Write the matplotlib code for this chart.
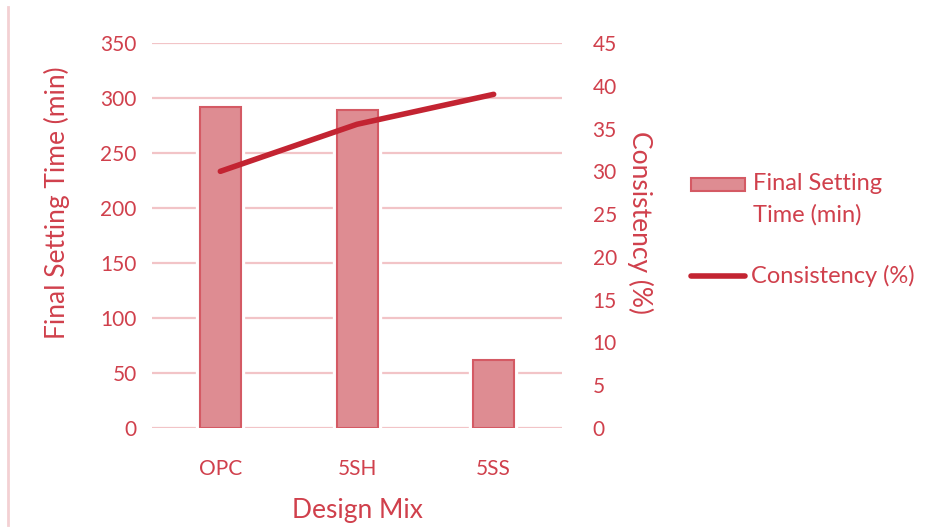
import matplotlib.pyplot as plt
from matplotlib.lines import Line2D
from matplotlib.patches import Rectangle

# data
mixes = ["OPC", "5SH", "5SS"]
setting_time = [292, 289, 62]       # Final Setting Time (min)
consistency = [30, 35.5, 39]        # Consistency (%)

left_ticks = [0, 50, 100, 150, 200, 250, 300, 350]
right_ticks = [0, 5, 10, 15, 20, 25, 30, 35, 40, 45]

txt_col = "#D0404C"
bar_col = "#DE8C92"
bar_edge = "#D45A64"
line_col = "#C32432"
grid_col = "#F2C4C7"

plt.rcParams['font.family'] = ['Lato', 'DejaVu Sans']
plt.rcParams['font.size'] = 15

fig = plt.figure(figsize=(9.37, 5.32), dpi=100)
ax = fig.add_axes([152/937, 1-428/532, 410/937, 385/532])
ax2 = ax.twinx()

x = range(len(mixes))
# white halo so grid lines stop short of the bars
ax.bar(x, setting_time, width=0.3, color="white", edgecolor="white", linewidth=6, zorder=2)
ax.bar(x, setting_time, width=0.3, color=bar_col, edgecolor=bar_edge, linewidth=1.5, zorder=3)
ax.set_xlim(-0.5, 2.5)
ax.set_ylim(0, 350)
ax.set_yticks(left_ticks)
ax.yaxis.grid(True, color=grid_col, linewidth=1.6, zorder=0)
ax.set_axisbelow(True)

ax2.plot(list(x), consistency, color=line_col, linewidth=4, solid_capstyle="round", zorder=5)
ax2.set_ylim(0, 45)
ax2.set_yticks(right_ticks)

ax.set_xticks(list(x))
ax.set_xticklabels(mixes)
for a in (ax, ax2):
    for s in a.spines.values():
        s.set_visible(False)
    a.tick_params(length=0, colors=txt_col)
ax.tick_params(axis="y", pad=11)
ax.tick_params(axis="x", pad=22)
ax2.tick_params(axis="y", pad=22)

ax.set_xlabel("Design Mix", color=txt_col, fontsize=19, labelpad=14)
ax.set_ylabel("Final Setting Time (min)", color=txt_col, fontsize=19)
ax2.set_ylabel("Consistency (%)", color=txt_col, fontsize=19, rotation=270, labelpad=26)
# axis titles sit a bit above the middle in the original
ax.yaxis.set_label_coords(-0.2, 0.584)
ax2.yaxis.label.set_y(0.535)

# legend drawn by hand (Excel style: key lines up with first text line)
fig.add_artist(Rectangle((691/937, 1-191/532), 54/937, 13/532, transform=fig.transFigure,
                         facecolor=bar_col, edgecolor=bar_edge, linewidth=1.5))
fig.text(753/937, 1-184/532, "Final Setting", color=txt_col, fontsize=17, va="center")
fig.text(753/937, 1-215/532, "Time (min)", color=txt_col, fontsize=17, va="center")
fig.add_artist(Line2D([691/937, 745/937], [1-276/532, 1-276/532], color=line_col,
                      linewidth=4, solid_capstyle="round"))
fig.text(751/937, 1-276/532, "Consistency (%)", color=txt_col, fontsize=17, va="center")

# faint border line on the left edge
fig.add_artist(Line2D([8/937, 8/937], [1-525/532, 1-7/532], color="#F3D0D3", linewidth=2))

fig.savefig("out.png", dpi=100)
